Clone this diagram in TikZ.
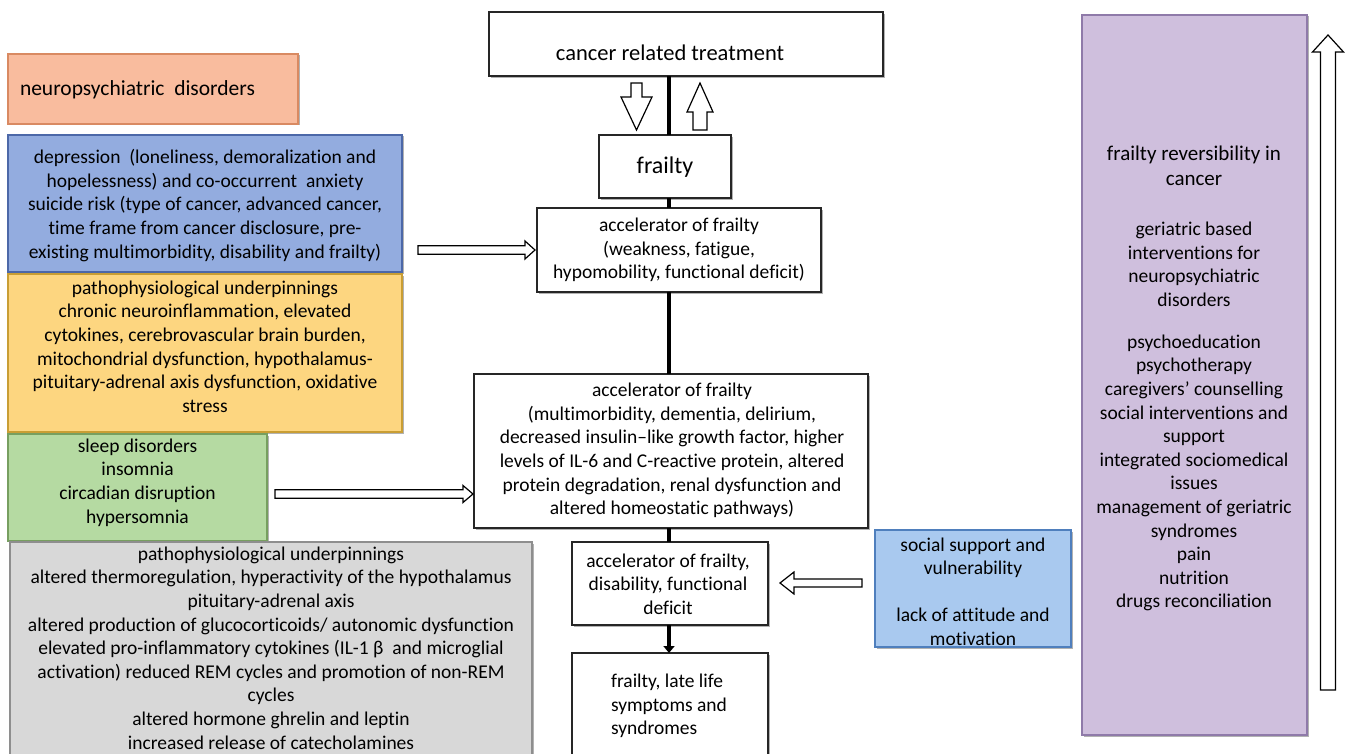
\documentclass[tikz,border=0pt]{standalone}
\usepackage{fontspec}
\setmainfont{Carlito}[Ligatures={TeX,NoCommon}]
\usetikzlibrary{calc,shadows,arrows.meta}

\definecolor{orF}{HTML}{F9BC9E}\definecolor{orD}{HTML}{D98A62}
\definecolor{blF}{HTML}{93ACDF}\definecolor{blD}{HTML}{4C68A8}
\definecolor{yeF}{HTML}{FDD680}\definecolor{yeD}{HTML}{C99E34}
\definecolor{grF}{HTML}{B5DAA2}\definecolor{grD}{HTML}{779F60}
\definecolor{gyF}{HTML}{D8D8D8}\definecolor{gyD}{HTML}{8E8E8E}
\definecolor{soF}{HTML}{A9C9EF}\definecolor{soD}{HTML}{4F7FBD}
\definecolor{puF}{HTML}{CFBFDD}\definecolor{puD}{HTML}{8F7AA9}

\newcommand{\blockarrow}[5]{%
\draw[blockarr] let \p1=(#1), \p2=(#2), \n1={veclen(\x2-\x1,\y2-\y1)},
  \n2={(\x2-\x1)/\n1}, \n3={(\y2-\y1)/\n1} in
 ({\x1-(\n3)*#3pt}, {\y1+(\n2)*#3pt})
 -- ({\x2-(\n2)*#5pt-(\n3)*#3pt}, {\y2-(\n3)*#5pt+(\n2)*#3pt})
 -- ({\x2-(\n2)*#5pt-(\n3)*#4pt}, {\y2-(\n3)*#5pt+(\n2)*#4pt})
 -- (\x2,\y2)
 -- ({\x2-(\n2)*#5pt+(\n3)*#4pt}, {\y2-(\n3)*#5pt-(\n2)*#4pt})
 -- ({\x2-(\n2)*#5pt+(\n3)*#3pt}, {\y2-(\n3)*#5pt-(\n2)*#3pt})
 -- ({\x1+(\n3)*#3pt}, {\y1-(\n2)*#3pt}) -- cycle;}

\begin{document}
\begin{tikzpicture}[x=1pt,y=-1pt,
  every node/.style={inner sep=0pt, outer sep=0pt},
  txt/.style={align=center, font=\fontsize{19.5}{23.6}\selectfont, text=black},
  cbox/.style 2 args={rectangle, draw=#2, fill=#1, line width=1.3pt,
     drop shadow={shadow xshift=1.5pt, shadow yshift=-1.5pt, fill=black, opacity=0.3}},
  wbox/.style={rectangle, draw=black!85, fill=white, line width=1.6pt,
     drop shadow={shadow xshift=2pt, shadow yshift=-2pt, fill=black, opacity=0.3}},
  axisline/.style={line width=4.5pt, black},
  blockarr/.style={draw=black, fill=white, line width=1.2pt, line join=miter}]

\useasboundingbox (0,0) rectangle (1349,754);
\clip (0,0) rectangle (1349,754);
\fill[white] (0,0) rectangle (1349,754);

% ---- left column boxes
\node[cbox={orF}{orD}, minimum width=290pt, minimum height=70pt] (neuro) at (153,89) {};
\node[txt, font=\fontsize{21.5}{26}\selectfont, anchor=west] (neuro-t) at (20,90) {neuropsychiatric\ \ disorders};

\node[cbox={blF}{blD}, minimum width=394pt, minimum height=137pt] (blue) at (205,203.5) {};
\node[txt] (blue-t) at (205,205.5) {depression\ \ (loneliness, demoralization and\\
hopelessness) and co-occurrent\ \ anxiety\\
suicide risk (type of cancer, advanced cancer,\\
time frame from cancer disclosure, pre-\\
existing multimorbidity, disability and frailty)};

\node[cbox={yeF}{yeD}, minimum width=394pt, minimum height=158pt] (yellow) at (205,353) {};
\node[txt] (yellow-t) at (205,346.5) {pathophysiological underpinnings\\
chronic neuroinflammation, elevated\\
cytokines, cerebrovascular brain burden,\\
mitochondrial dysfunction, hypothalamus-\\
pituitary-adrenal axis dysfunction, oxidative\\
stress};

\node[cbox={grF}{grD}, minimum width=259pt, minimum height=107pt] (green) at (137.5,487.5) {};
\node[txt] (green-t) at (137.5,482.5) {sleep disorders\\ insomnia\\ circadian disruption\\ hypersomnia};

\node[cbox={gyF}{gyD}, minimum width=522pt, minimum height=218pt] (gray) at (271,651) {};
\node[txt] (gray-t) at (271,648) {pathophysiological underpinnings\\
altered thermoregulation, hyperactivity of the hypothalamus\\
pituitary-adrenal axis\\
altered production of glucocorticoids/ autonomic dysfunction\\
elevated pro-inflammatory cytokines (IL-1 β\ \ and microglial\\
activation) reduced REM cycles and promotion of non-REM\\
cycles\\
altered hormone ghrelin and leptin\\
increased release of catecholamines};

% ---- central column
\coordinate (axis) at (669,0);
\node[wbox, minimum width=394pt, minimum height=64pt] (cancer) at (686,44) {};
\node[txt, font=\fontsize{22.5}{27}\selectfont] (cancer-t) at (670,53) {cancer related treatment};

\node[wbox, minimum width=132pt, minimum height=63pt] (frailty) at (665,166.5) {};
\node[txt, font=\fontsize{24}{28}\selectfont] (frailty-t) at (665,167) {frailty};

\node[wbox, minimum width=284pt, minimum height=84pt] (acc1) at (679,250) {};
\node[txt] (acc1-t) at (679,250) {accelerator of frailty\\ (weakness, fatigue,\\ hypomobility, functional deficit)};

\node[wbox, minimum width=394pt, minimum height=154pt] (acc2) at (671,451) {};
\node[txt] (acc2-t) at (672,450.5) {accelerator of frailty\\
(multimorbidity, dementia, delirium,\\
decreased insulin–like growth factor, higher\\
levels of IL-6 and C-reactive protein, altered\\
protein degradation, renal dysfunction and\\
altered homeostatic pathways)};

\node[wbox, minimum width=196pt, minimum height=83pt] (acc3) at (670,583.5) {};
\node[txt] (acc3-t) at (668,584) {accelerator of frailty,\\ disability, functional\\ deficit};

\node[wbox, minimum width=196pt, minimum height=107pt] (final) at (670,706.5) {};
\node[txt, align=left] (final-t) at (669,706) {frailty, late life\\ symptoms and\\ syndromes};

% ---- right column
\node[cbox={soF}{soD}, minimum width=196pt, minimum height=117pt] (social) at (973,588.5) {};
\node[txt] (social-t) at (973,591.5) {social support and\\ vulnerability\\[23.6pt] lack of attitude and\\ motivation};

\node[cbox={puF}{puD}, minimum width=225pt, minimum height=720pt] (purple) at (1194.5,375) {};
\node[txt, font=\fontsize{21}{25}\selectfont] (purple-t1) at (1194,165.5) {frailty reversibility in\\ cancer};
\node[txt] (purple-t2) at (1194,264.5) {geriatric based\\ interventions for\\ neuropsychiatric\\ disorders};
\node[txt] (purple-t3) at (1194,473) {psychoeducation\\ psychotherapy\\ caregivers’ counselling\\
social interventions and\\ support\\ integrated sociomedical\\ issues\\ management of geriatric\\
syndromes\\ pain\\ nutrition\\ drugs reconciliation};

% ---- central axis connectors
\draw[axisline] (axis |- cancer.south) -- (axis |- frailty.north);
\draw[axisline] (axis |- frailty.south) -- (axis |- acc1.north);
\draw[axisline] (axis |- acc1.south) -- (axis |- acc2.north);
\draw[axisline] (axis |- acc2.south) -- (axis |- acc3.north);
\draw[axisline, -{Triangle[width=11pt,length=7pt]}] (axis |- acc3.south) -- (axis |- final.north);

% ---- block arrows
\coordinate (d1s) at ($(axis |- cancer.south)+(-32.5,7)$);
\coordinate (d1e) at ($(axis |- frailty.north)+(-32.5,-5)$);
\blockarrow{d1s}{d1e}{5.5}{15.5}{33}
\coordinate (u1s) at ($(axis |- frailty.north)+(31,-5)$);
\coordinate (u1e) at ($(axis |- cancer.south)+(31,7)$);
\blockarrow{u1s}{u1e}{7}{13}{29}

\coordinate (a1s) at ($(blue.east |- acc1.west)+(16,0)$);
\coordinate (a1e) at ($(acc1.west)+(-2,0)$);
\blockarrow{a1s}{a1e}{4.3}{9}{10}

\coordinate (a2s) at ($(green.east)+(8,6.5)$);
\coordinate (a2e) at ($(a2s -| acc2.west)+(-1,0)$);
\blockarrow{a2s}{a2e}{4.2}{8.5}{10}

\coordinate (a3s) at ($(social.west)+(-13,-5.5)$);
\coordinate (a3e) at ($(a3s -| acc3.east)+(12,0)$);
\blockarrow{a3s}{a3e}{4}{11}{14}

\coordinate (rs) at ($(purple.east |- 0,690)+(21,0)$);
\coordinate (re) at ($(purple.east |- 0,35)+(21,0)$);
\blockarrow{rs}{re}{7.5}{15.5}{17}
\end{tikzpicture}
\end{document}
